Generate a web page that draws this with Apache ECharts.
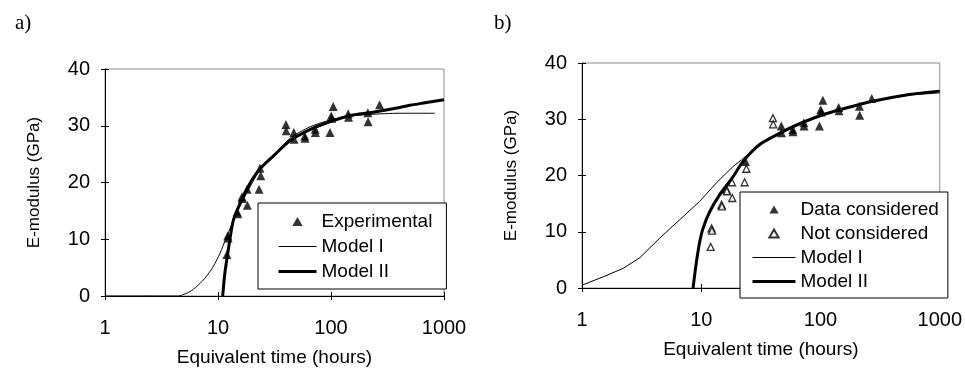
<!DOCTYPE html>
<html>
<head>
<meta charset="utf-8">
<script src="https://cdn.jsdelivr.net/npm/echarts@6/dist/echarts.min.js"></script>
<style>
html,body{margin:0;padding:0;background:#fff;}
#chart{width:965px;height:376px;}
</style>
</head>
<body>
<div id="chart"></div>
<script>
// ---- data ----
const xTicks = [1, 10, 100, 1000];
const yTicks = [0, 10, 20, 30, 40];

// experimental points – early age (not considered in panel b)
const notConsTime = [12.0, 12.2, 12.3, 14.8, 14.9, 16.3, 16.4, 18.1, 18.2, 23.1, 23.9, 39.9, 40.1];
const notConsE    = [7.3, 10.6, 10.2, 14.8, 14.5, 17.5, 17.2, 18.8, 16.0, 18.8, 21.2, 30.2, 29.1];
// experimental points – considered in panel b
const consTime = [23.5, 46.9, 47.1, 58.6, 58.8, 72.5, 72.7, 98, 104.7, 100.4, 101.5, 142, 143, 212, 213, 269];
const consE    = [22.5, 28.8, 27.6, 28.2, 27.8, 29.4, 28.8, 28.8, 33.4, 31.7, 31.3, 32.1, 31.5, 32.3, 30.7, 33.7];

// panel a) models
const aModel1Time = [1, 4.45, 5.0, 5.65, 6.5, 7.41, 8.2, 9.08, 10.4, 11.9, 14.6, 17.9, 23.5, 30.9, 43.4, 65.2, 98, 147, 221, 400, 832];
const aModel1E    = [0, 0, 0.3, 0.76, 1.7, 2.8, 3.9, 5.2, 7.5, 10.4, 14.6, 18.1, 22.2, 24.5, 27.8, 29.8, 31.0, 31.7, 32.0, 32.2, 32.2];
const aModel2Time = [11.0, 11.5, 12.2, 13.7, 16.7, 20, 23.5, 31, 43, 65, 100, 150, 220, 333, 500, 656, 1000];
const aModel2E    = [0, 4, 7.5, 13.4, 17.5, 20.5, 22.4, 24.7, 27.3, 29.3, 30.8, 31.8, 32.3, 32.9, 33.6, 34.0, 34.6];

// panel b) models
const bModel1Time = [1, 1.51, 2.22, 3.06, 4.5, 7.05, 9.7, 13.4, 18.5, 21.8, 30.9, 45.4, 66.7, 104.7, 164, 274, 556, 1000];
const bModel1E    = [0.5, 2.0, 3.5, 5.4, 8.9, 12.7, 15.4, 18.7, 21.6, 22.8, 25.5, 27.5, 29.2, 30.8, 32.0, 33.2, 34.3, 34.7];
const bModel2Time = [8.54, 9.12, 9.71, 10.35, 11.8, 14.3, 18.5, 22.4, 30.9, 45.4, 66.7, 104.7, 164, 274, 556, 1000];
const bModel2E    = [0, 4.7, 8.2, 10.6, 13.6, 16.6, 19.8, 22.5, 25.5, 27.5, 29.2, 30.8, 32.0, 33.2, 34.4, 35.0];

// ---- helpers ----
const zip = (a, b) => a.map((v, i) => [v, b[i]]);
const FONT = 'Liberation Sans, Arial, sans-serif';
const TRI = 'path://M0,10L5.77,0L11.55,10Z';

function xAxisMain(grid) {
  return {
    type: 'log', logBase: 10, gridIndex: grid,
    min: xTicks[0], max: xTicks[xTicks.length - 1],
    name: 'Equivalent time (hours)', nameLocation: 'middle', nameGap: 52,
    nameTextStyle: { fontFamily: FONT, fontSize: 19, color: '#000' },
    axisLine: { show: true, onZero: false, lineStyle: { color: '#000', width: 1 } },
    axisTick: { show: true, inside: false, length: 4, lineStyle: { color: '#000' } },
    axisLabel: { fontFamily: FONT, fontSize: 20, color: '#000', margin: 22,
                 formatter: v => String(Math.round(v)) },
    minorTick: { show: false }, splitLine: { show: false }
  };
}
function xAxisInner(grid) {
  return {
    type: 'log', logBase: 10, gridIndex: grid, position: 'bottom',
    min: xTicks[0], max: xTicks[xTicks.length - 1],
    axisLine: { show: false },
    axisTick: { show: true, inside: true, length: 4, lineStyle: { color: '#000' } },
    axisLabel: { show: false }, splitLine: { show: false }
  };
}
function yAxisMain(grid, gap) {
  return {
    type: 'value', gridIndex: grid,
    min: yTicks[0], max: yTicks[yTicks.length - 1], interval: 10,
    name: 'E-modulus (GPa)', nameLocation: 'middle', nameGap: gap, nameRotate: 90,
    nameTextStyle: { fontFamily: FONT, fontSize: 17, color: '#000' },
    axisLine: { show: true, lineStyle: { color: '#000', width: 1 } },
    axisTick: { show: true, inside: false, length: 4, lineStyle: { color: '#000' } },
    axisLabel: { fontFamily: FONT, fontSize: 20, color: '#000', margin: 15 },
    splitLine: { show: false }
  };
}
function yAxisInner(grid) {
  return {
    type: 'value', gridIndex: grid, position: 'left',
    min: yTicks[0], max: yTicks[yTicks.length - 1], interval: 10,
    axisLine: { show: false },
    axisTick: { show: true, inside: true, length: 4, lineStyle: { color: '#000' } },
    axisLabel: { show: false }, splitLine: { show: false }
  };
}
function lineSeries(name, xi, yi, data, width, smooth) {
  return {
    type: 'line', name, xAxisIndex: xi, yAxisIndex: yi, data,
    symbol: 'none', smooth: smooth,
    lineStyle: { color: '#000', width }, itemStyle: { color: '#000' },
    z: 3, animation: false
  };
}
const hideDot = { opacity: 0 };

const option = {
  animation: false,
  backgroundColor: '#fff',
  textStyle: { fontFamily: FONT },
  title: [
    { text: 'a)', left: 10, top: 8, textStyle: { fontFamily: 'Liberation Serif, serif', fontSize: 21, fontWeight: 'normal', color: '#000' } },
    { text: 'b)', left: 489, top: 8, textStyle: { fontFamily: 'Liberation Serif, serif', fontSize: 21, fontWeight: 'normal', color: '#000' } }
  ],
  grid: [
    { left: 105, top: 69, width: 339, height: 227, show: true, borderColor: '#8c8c8c', borderWidth: 1, containLabel: false },
    { left: 582, top: 63, width: 358, height: 225, show: true, borderColor: '#8c8c8c', borderWidth: 1, containLabel: false }
  ],
  xAxis: [xAxisMain(0), xAxisInner(0), xAxisMain(1), xAxisInner(1)],
  yAxis: [yAxisMain(0, 62), yAxisInner(0), yAxisMain(1, 62), yAxisInner(1)],
  legend: [
    {
      data: [
        { name: 'Experimental', icon: TRI },
        { name: 'Model I', itemStyle: hideDot, lineStyle: { width: 1, color: '#000' } },
        { name: 'Model II', itemStyle: hideDot, lineStyle: { width: 3, color: '#000' } }
      ],
      orient: 'vertical', left: 258, top: 203,
      padding: [9, 14, 8, 19], itemGap: 6, itemWidth: 38, itemHeight: 9,
      symbolKeepAspect: true,
      backgroundColor: '#fff', borderColor: '#000', borderWidth: 1, borderRadius: 0,
      textStyle: { fontFamily: FONT, fontSize: 19, color: '#000', lineHeight: 19 },
      selectedMode: false
    },
    {
      data: [
        { name: 'Data considered', icon: TRI },
        { name: 'Not considered', icon: TRI },
        { name: 'Model I ', itemStyle: hideDot, lineStyle: { width: 1, color: '#000' } },
        { name: 'Model II ', itemStyle: hideDot, lineStyle: { width: 3, color: '#000' } }
      ],
      orient: 'vertical', left: 740, top: 192,
      padding: [8, 9, 7, 11], itemGap: 5, itemWidth: 43, itemHeight: 8,
      symbolKeepAspect: true,
      backgroundColor: '#fff', borderColor: '#000', borderWidth: 1, borderRadius: 0,
      textStyle: { fontFamily: FONT, fontSize: 19, color: '#000', lineHeight: 19 },
      selectedMode: false
    }
  ],
  series: [
    {
      type: 'scatter', name: 'Experimental', xAxisIndex: 0, yAxisIndex: 0,
      data: zip(notConsTime.concat(consTime), notConsE.concat(consE)),
      symbol: 'triangle', symbolSize: 9, itemStyle: { color: '#000' }, z: 2
    },
    lineSeries('Model I', 0, 0, zip(aModel1Time, aModel1E), 1, 0.25),
    lineSeries('Model II', 0, 0, zip(aModel2Time, aModel2E), 3, 0.25),
    {
      type: 'scatter', name: 'Data considered', xAxisIndex: 2, yAxisIndex: 2,
      data: zip(consTime, consE),
      symbol: 'triangle', symbolSize: 9, itemStyle: { color: '#000' }, z: 2
    },
    {
      type: 'scatter', name: 'Not considered', xAxisIndex: 2, yAxisIndex: 2,
      data: zip(notConsTime, notConsE),
      symbol: 'triangle', symbolSize: 7,
      itemStyle: { color: '#fff', borderColor: '#000', borderWidth: 1.3 }, z: 2
    },
    lineSeries('Model I ', 2, 2, zip(bModel1Time, bModel1E), 1, false),
    lineSeries('Model II ', 2, 2, zip(bModel2Time, bModel2E), 3, 0.25)
  ]
};

const chart = echarts.init(document.getElementById('chart'), null, { renderer: 'canvas' });
chart.setOption(option);
</script>
</body>
</html>
